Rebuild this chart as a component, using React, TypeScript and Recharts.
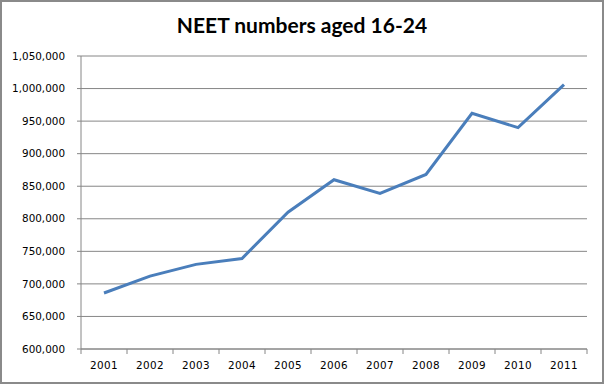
import React from 'react';
import { LineChart, Line, XAxis, YAxis, CartesianGrid } from 'recharts';

const years = ['2001', '2002', '2003', '2004', '2005', '2006', '2007', '2008', '2009', '2010', '2011'];
const neet = [686000, 712000, 730000, 739000, 810000, 860000, 839000, 868000, 962000, 940000, 1006000];
const yTicks = [600000, 650000, 700000, 750000, 800000, 850000, 900000, 950000, 1000000, 1050000];

const data = years.map((y, i) => ({ year: y, value: neet[i] }));

const fmt = (v: number) => v.toLocaleString('en-US');

const XTick = (props: any) => {
  const { x, y, payload, index, visibleTicksCount, width } = props;
  const band = width / visibleTicksCount;
  const axisY = y - 13;
  const left = x - band / 2;
  return (
    <g>
      <line x1={left} y1={axisY} x2={left} y2={axisY + 5} stroke="#868686" />
      {index === visibleTicksCount - 1 && (
        <line x1={x + band / 2} y1={axisY} x2={x + band / 2} y2={axisY + 5} stroke="#868686" />
      )}
      <text x={x} y={y} dy="0.71em" textAnchor="middle" fill="#000" fontSize={10.4} fontFamily="DejaVu Sans" letterSpacing={0.4}>
        {payload.value}
      </text>
    </g>
  );
};

const YTick = (props: any) => {
  const { x, y, payload } = props;
  return (
    <text x={x} y={y} dy="0.355em" textAnchor="end" fill="#000" fontSize={10.4} fontFamily="DejaVu Sans">
      {fmt(payload.value)}
    </text>
  );
};

export default function App() {
  return (
    <div style={{ position: 'absolute', left: 0, top: 0, width: 604, height: 384, background: '#fff' }}>
      <div
        style={{
          position: 'absolute', left: 0, top: 0, width: 604, height: 384, boxSizing: 'border-box',
          border: '2px solid #8a8a8a', pointerEvents: 'none', zIndex: 2,
        }}
      />
      <div
        style={{
          position: 'absolute', left: 0, top: 11, width: 604, textAlign: 'center',
          fontFamily: 'Lato', fontWeight: 700, fontSize: 21, color: '#000', lineHeight: '28px',
        }}
      >
        NEET numbers aged 16-24
      </div>
      <LineChart width={604} height={384} data={data} margin={{ top: 56, right: 17, bottom: 5, left: 0 }}>
        <CartesianGrid vertical={false} stroke="#868686" strokeDasharray="" />
        <XAxis
          dataKey="year"
          scale="band"
          stroke="#868686"
          tickLine={false}
          tickSize={5}
          tickMargin={8}
          height={30}
          tick={<XTick />}
          interval={0}
        />
        <YAxis
          domain={[600000, 1050000]}
          ticks={yTicks}
          stroke="#868686"
          tickSize={4}
          tickMargin={12}
          width={81}
          interval={0}
          tick={<YTick />}
          allowDataOverflow
        />
        <Line
          type="linear"
          dataKey="value"
          stroke="#4A7EBB"
          strokeWidth={3}
          dot={false}
          isAnimationActive={false}
        />
      </LineChart>
    </div>
  );
}
